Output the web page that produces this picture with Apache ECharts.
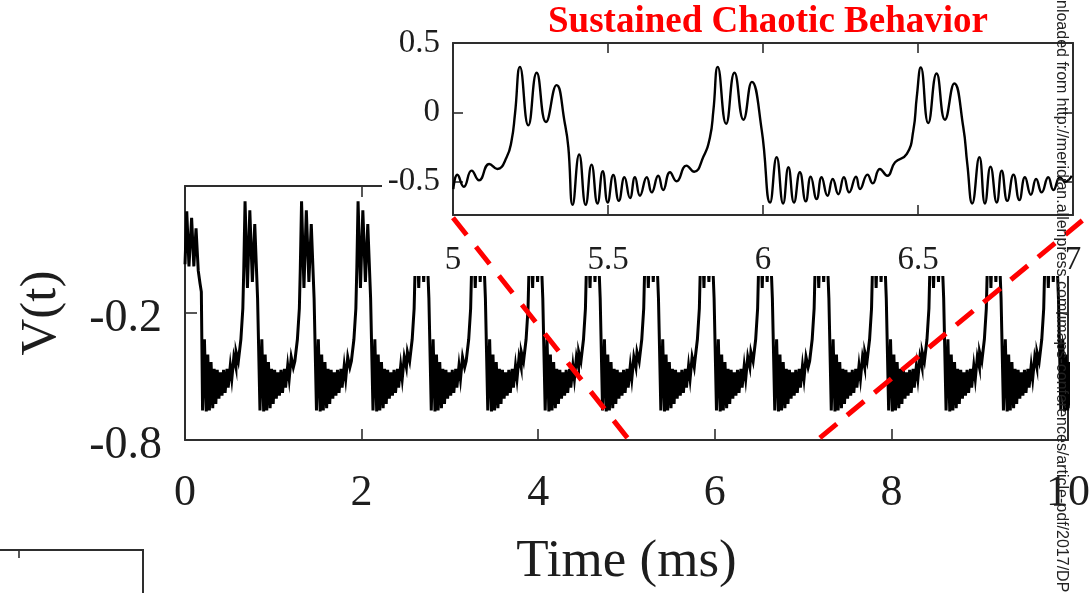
<!DOCTYPE html>
<html>
<head>
<meta charset="utf-8">
<script src="https://cdn.jsdelivr.net/npm/echarts@6/dist/echarts.min.js"></script>
<style>
  html, body { margin: 0; padding: 0; background: #fff; }
  #chart { width: 1092px; height: 593px; }
</style>
</head>
<body>
<div id="chart"></div>
<script>
// Membrane voltage V(t) over 0–10 ms, with a detailed view of 5–7 ms.

// Axis ticks and labels
const mainTimeTicks = [0, 2, 4, 6, 8, 10];
const mainVoltLabels = [-0.8, -0.2];
const mainVoltTicks = [-0.2];
const insetTimeTicks = [5, 5.5, 6, 6.5, 7];
const insetVoltLabels = [-0.5, 0, 0.5];
const insetVoltTicks = [-0.5, 0];

// Opening burst at the start of the record: [time ms, V]
const openingBurst = [
  [0, 0.03], [0.02, 0.28], [0.045, 0.02], [0.075, 0.25], [0.1, 0.02],
  [0.125, 0.2], [0.15, 0.0], [0.17, -0.06], [0.185, -0.1]
];
const openingPeakTime = 0.03;

// Time of the first (tallest) peak of each later burst, ms
const burstPeakTimes = [0.68, 1.32, 1.96, 2.62, 3.26, 3.91, 4.56, 5.22, 5.85, 6.51, 7.15, 7.80, 8.45, 9.10, 9.75];

// Burst waveform relative to its first peak: [dt ms, V] (rise, triple peak, fall)
const burstShape = [
  [-0.101, -0.384], [-0.076, -0.428], [-0.047, -0.324], [-0.025, -0.179], [-0.014, 0.014],
  [0, 0.328], [0.027, -0.082], [0.054, 0.285], [0.083, -0.053], [0.11, 0.22], [0.142, -0.13]
];

// Damped ringing that follows each burst: [dt ms, V]
const ringingShape = [
  [0.169, -0.66], [0.19, -0.324], [0.211, -0.665], [0.228, -0.396], [0.246, -0.66],
  [0.265, -0.432], [0.284, -0.65], [0.3, -0.464], [0.319, -0.63], [0.335, -0.468],
  [0.354, -0.605], [0.371, -0.48], [0.389, -0.59], [0.407, -0.468], [0.424, -0.577],
  [0.446, -0.464], [0.459, -0.553], [0.483, -0.449], [0.5, -0.512], [0.523, -0.408],
  [0.547, -0.457]
];

// Detailed trace between 5 and 7 ms: [time ms, V]
const insetTrace = [
  [5.001, -0.553], [5.014, -0.45], [5.035, -0.536], [5.06, -0.42], [5.084, -0.49],
  [5.117, -0.372], [5.143, -0.408], [5.173, -0.324], [5.189, -0.203], [5.2, -0.01],
  [5.216, 0.328], [5.243, -0.094], [5.27, 0.285], [5.3, -0.07], [5.334, 0.196],
  [5.361, -0.082], [5.372, -0.25], [5.386, -0.667], [5.407, -0.304], [5.428, -0.667],
  [5.447, -0.377], [5.466, -0.657], [5.483, -0.425], [5.499, -0.65], [5.517, -0.452],
  [5.535, -0.638], [5.553, -0.468], [5.571, -0.618], [5.587, -0.468], [5.603, -0.601],
  [5.625, -0.468], [5.641, -0.577], [5.662, -0.457], [5.678, -0.56], [5.7, -0.432],
  [5.721, -0.497], [5.753, -0.384], [5.778, -0.428], [5.807, -0.324], [5.829, -0.179],
  [5.84, 0.014], [5.854, 0.328], [5.881, -0.082], [5.908, 0.285], [5.937, -0.053],
  [5.964, 0.22], [5.996, -0.13], [6.023, -0.65], [6.044, -0.324], [6.065, -0.657],
  [6.082, -0.396], [6.1, -0.65], [6.119, -0.432], [6.138, -0.642], [6.154, -0.464],
  [6.173, -0.625], [6.189, -0.468], [6.208, -0.601], [6.225, -0.48], [6.243, -0.59],
  [6.261, -0.468], [6.278, -0.577], [6.3, -0.464], [6.313, -0.553], [6.337, -0.449],
  [6.354, -0.512], [6.377, -0.408], [6.401, -0.457], [6.426, -0.36], [6.464, -0.3],
  [6.485, -0.13], [6.496, 0.11], [6.509, 0.324], [6.533, -0.077], [6.56, 0.28],
  [6.587, -0.053], [6.617, 0.208], [6.646, -0.106], [6.659, -0.372], [6.675, -0.657],
  [6.698, -0.324], [6.716, -0.657], [6.734, -0.391], [6.754, -0.65], [6.77, -0.42],
  [6.788, -0.638], [6.808, -0.449], [6.827, -0.633], [6.845, -0.468], [6.864, -0.594],
  [6.881, -0.48], [6.899, -0.577], [6.92, -0.468], [6.937, -0.56], [6.958, -0.468],
  [6.974, -0.5], [6.996, -0.457]
];

// Zoom connectors: inset point (inset axes) -> main point (main axes)
const zoomConnectors = [
  { inset: [5.0, -0.76], main: [5.01, -0.79] },
  { inset: [7.03, -0.78], main: [7.19, -0.79] }
];

const titleText = 'Sustained Chaotic Behavior';
const sourceNote = 'Downloaded from http://meridian.allenpress.com/imaps-conferences/article-pdf/2017/DPC/';

// Assemble the full 0–10 ms trace from the opening burst and the later bursts
function buildMainTrace() {
  const pts = [];
  const push = (t, v) => {
    if (!pts.length || t > pts[pts.length - 1][0]) pts.push([+t.toFixed(4), v]);
  };
  openingBurst.forEach(p => push(p[0], p[1]));
  ringingShape.forEach(p => push(openingPeakTime + p[0], p[1]));
  burstPeakTimes.forEach(t0 => {
    burstShape.forEach(p => push(t0 + p[0], p[1]));
    ringingShape.forEach(p => push(t0 + p[0], p[1]));
  });
  return pts;
}
const mainTrace = buildMainTrace();

const serif = '"Liberation Serif", "Times New Roman", serif';
const axisInk = '#2e2e2e';
const textInk = '#1d1d1d';

function frameAxis(opts) {
  return Object.assign({
    type: 'value',
    axisLine: { show: true, onZero: false, lineStyle: { color: axisInk, width: 2 } },
    axisTick: { show: true, inside: true, length: 11, lineStyle: { color: axisInk, width: 1.6 } },
    axisLabel: { show: false },
    splitLine: { show: false }
  }, opts);
}

const chart = echarts.init(document.getElementById('chart'), null, { renderer: 'canvas' });

chart.setOption({
  animation: false,
  backgroundColor: '#ffffff',
  title: {
    text: titleText,
    left: 548, top: 4, padding: 0, z: 20,
    textStyle: { color: '#ff0000', fontFamily: serif, fontWeight: 'bold', fontSize: 37 }
  },
  grid: [
    { left: 185, top: 186, width: 883, height: 254, outerBoundsMode: 'none', containLabel: false },
    { left: 453, top: 43, width: 620, height: 172, outerBoundsMode: 'none', containLabel: false }
  ],
  xAxis: [
    frameAxis({
      gridIndex: 0, position: 'bottom', min: mainTimeTicks[0], max: mainTimeTicks[mainTimeTicks.length - 1], interval: 2,
      axisLabel: { show: true, margin: 31, fontFamily: serif, fontSize: 44, color: textInk },
      name: 'Time (ms)', nameLocation: 'middle', nameGap: 96,
      nameTextStyle: { fontFamily: serif, fontSize: 53, color: textInk }
    }),
    frameAxis({ gridIndex: 0, position: 'top', min: 0, max: 10, interval: 2 }),
    frameAxis({
      gridIndex: 1, position: 'bottom', min: insetTimeTicks[0], max: insetTimeTicks[insetTimeTicks.length - 1], interval: 0.5, z: 12,
      axisTick: { show: true, inside: true, length: 10, lineStyle: { color: axisInk, width: 1.6 } },
      axisLabel: { show: true, margin: 29, fontFamily: serif, fontSize: 33, color: textInk }
    }),
    frameAxis({
      gridIndex: 1, position: 'top', min: 5, max: 7, interval: 0.5, z: 12,
      axisTick: { show: true, inside: true, length: 10, lineStyle: { color: axisInk, width: 1.6 } }
    })
  ],
  yAxis: [
    frameAxis({
      gridIndex: 0, position: 'left', min: -0.8, max: 0.4,
      axisTick: { show: true, inside: true, length: 12, customValues: mainVoltTicks, lineStyle: { color: axisInk, width: 1.6 } },
      axisLabel: {
        show: true, customValues: mainVoltLabels, margin: 23,
        formatter: v => '{v|' + v + '}',
        rich: { v: { fontFamily: serif, fontSize: 46, color: textInk, padding: [11, 0, 0, 0] } }
      },
      name: 'V(t)', nameLocation: 'middle', nameRotate: 90, nameGap: 118,
      nameTextStyle: { fontFamily: serif, fontSize: 51, color: textInk }
    }),
    frameAxis({
      gridIndex: 0, position: 'right', min: -0.8, max: 0.4,
      axisTick: { show: true, inside: true, length: 12, customValues: mainVoltTicks, lineStyle: { color: axisInk, width: 1.6 } }
    }),
    frameAxis({
      gridIndex: 1, position: 'left', min: -0.74, max: 0.5, z: 12,
      axisTick: { show: true, inside: true, length: 10, customValues: insetVoltTicks, lineStyle: { color: axisInk, width: 1.6 } },
      axisLabel: { show: true, customValues: insetVoltLabels, margin: 13, fontFamily: serif, fontSize: 33, color: textInk }
    }),
    frameAxis({
      gridIndex: 1, position: 'right', min: -0.74, max: 0.5, z: 12,
      axisTick: { show: true, inside: true, length: 10, customValues: insetVoltTicks, lineStyle: { color: axisInk, width: 1.6 } }
    })
  ],
  series: [
    {
      name: 'V(t)', type: 'line', xAxisIndex: 0, yAxisIndex: 0,
      data: mainTrace, showSymbol: false, clip: true, z: 2,
      lineStyle: { color: '#000', width: 3, join: 'miter' }
    },
    {
      name: 'V(t) 5–7 ms', type: 'line', xAxisIndex: 2, yAxisIndex: 2,
      data: insetTrace, showSymbol: false, clip: true, z: 14,
      smooth: 0.5,
      lineStyle: { color: '#000', width: 2.4 }
    }
  ],
  graphic: {
    elements: [
      // blank backing behind the inset and its labels
      { type: 'rect', id: 'insetBacking', z: 5, silent: true,
        shape: { x: 382, y: 0, width: 710, height: 276 }, style: { fill: '#ffffff' } },
      // edge of the neighbouring panel
      { type: 'polyline', id: 'nextPanel', z: 1, silent: true,
        shape: { points: [[0, 550], [143, 550], [143, 600]] }, style: { stroke: axisInk, lineWidth: 2, fill: null } },
      { type: 'line', id: 'nextPanelTick', z: 1, silent: true,
        shape: { x1: 19, y1: 550, x2: 19, y2: 558 }, style: { stroke: axisInk, lineWidth: 1.6 } },
      // vertical source note
      { type: 'text', id: 'sourceNote', z: 50, silent: true,
        x: 1061, y: -32, rotation: -Math.PI / 2,
        style: { text: sourceNote, fill: '#222', font: '16px "Liberation Sans", Arial, sans-serif',
                 textAlign: 'left', textVerticalAlign: 'middle' } }
    ]
  }
});

// Dashed connectors from the inset to the zoomed span of the main trace;
// the gap is stretched so each connector starts and ends on a dash.
const dashLen = 22, baseGap = 13;
const connectorEls = zoomConnectors.map((c, i) => {
  const a = chart.convertToPixel({ gridIndex: 1 }, c.inset);
  const b = chart.convertToPixel({ gridIndex: 0 }, c.main);
  const len = Math.hypot(b[0] - a[0], b[1] - a[1]);
  const n = Math.max(1, Math.round((len - dashLen) / (dashLen + baseGap)));
  const gap = (len - dashLen * (n + 1)) / n;
  return {
    type: 'line', id: 'connector' + i, z: 40, silent: true,
    shape: { x1: a[0], y1: a[1], x2: b[0], y2: b[1] },
    style: { stroke: '#ff0000', lineWidth: 5, lineDash: [dashLen, gap] }
  };
});
chart.setOption({ graphic: { elements: connectorEls } });
</script>
</body>
</html>
